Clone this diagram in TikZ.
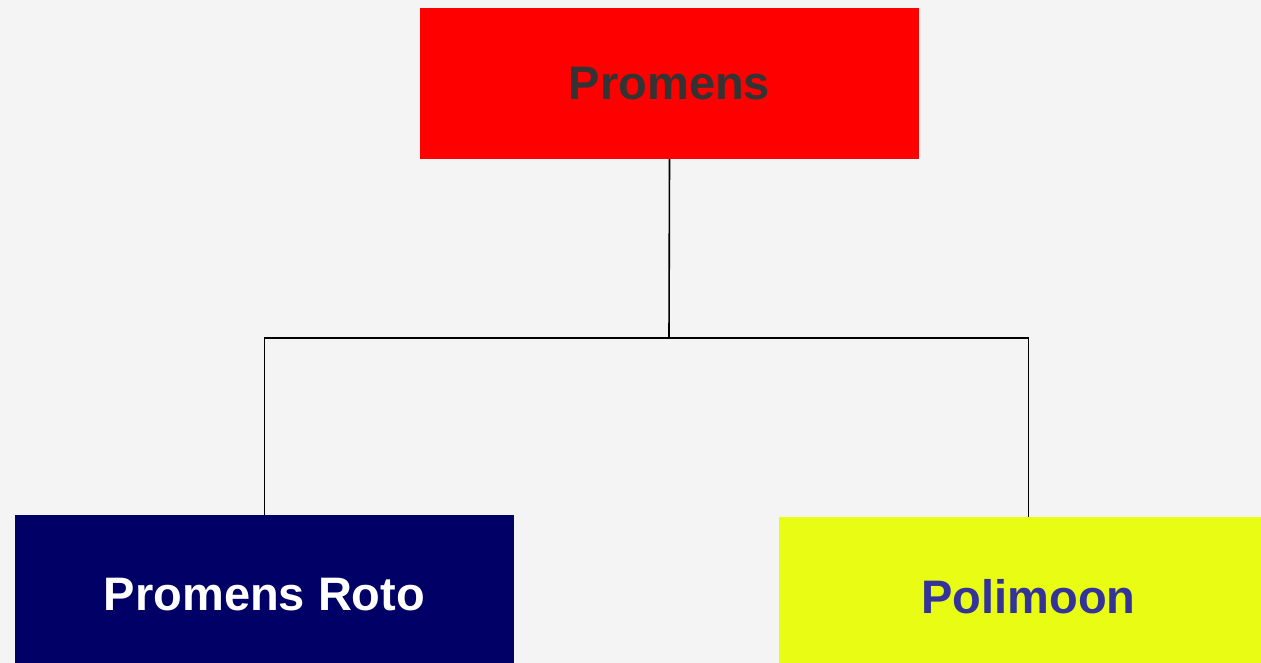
\documentclass[tikz,border=0pt]{standalone}
\usepackage{fontspec}
\setmainfont{Liberation Sans}
\usepackage{tikz}
\usetikzlibrary{positioning,calc}

\definecolor{bggray}{RGB}{244,244,244}
\definecolor{boxred}{RGB}{255,0,0}
\definecolor{boxnavy}{RGB}{0,0,102}
\definecolor{boxyellow}{RGB}{232,252,20}
\definecolor{txtgray}{RGB}{51,51,51}
\definecolor{txtblue}{RGB}{51,51,153}

\begin{document}
\begin{tikzpicture}[x=1pt, y=-1pt, every node/.style={transform shape},
company/.style={rectangle, inner sep=0pt, outer sep=0pt, minimum width=499pt, font=\fontsize{47}{56}\selectfont\bfseries},
link/.style={draw=black, line width=1.6pt}]

\fill[bggray] (0,0) rectangle (1261,663);
\useasboundingbox (0,0) rectangle (1261,663);
\clip (0,0) rectangle (1261,663);

\node[company, fill=boxred, text=txtgray, minimum height=151pt]    (promens)  at (669.5,83.5)  {Promens};
\node[company, fill=boxnavy, text=white, minimum height=160pt]     (roto)     at (264.5,595)   {Promens Roto};
\node[company, fill=boxyellow, text=txtblue, minimum height=160pt] (polimoon) at (1028.5,597)  {Polimoon};

\coordinate (split) at (669,338);

\draw[link] (promens.south) -- (split);
\draw[link] (split) -| (roto.north);
\draw[link] (split) -| (polimoon.north);

\end{tikzpicture}
\end{document}
